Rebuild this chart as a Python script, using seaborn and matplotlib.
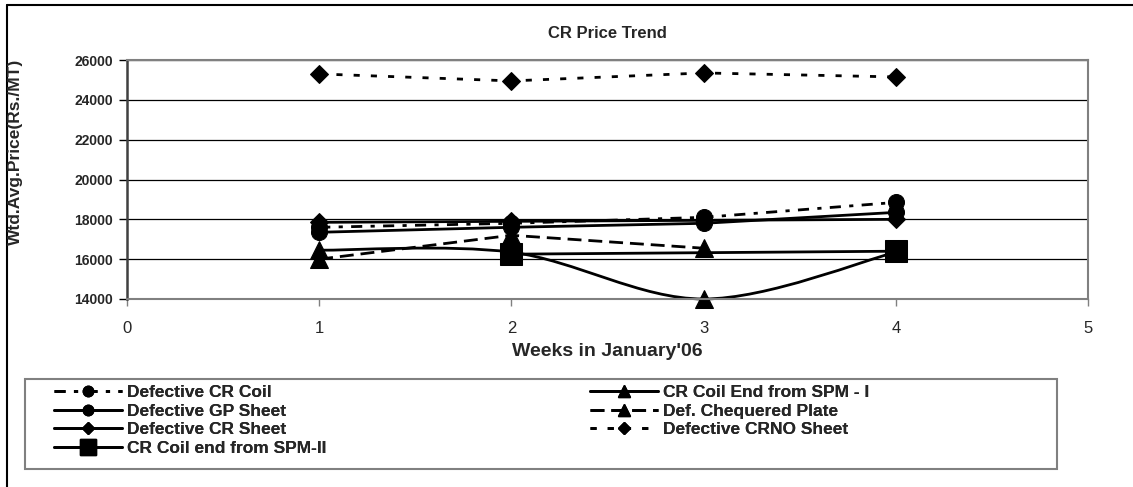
import numpy as np
import pandas as pd
import seaborn as sns
import matplotlib.pyplot as plt
from matplotlib.lines import Line2D
from matplotlib.path import Path
from matplotlib.patches import PathPatch, Rectangle

# values (Rs./MT), weeks 1-4 of January'06
weeks = [1, 2, 3, 4]
cr_coil = [17600, 17800, 18100, 18850]
spm1 = [16450, 16350, 14000, 16350]
gp_sheet = [17350, 17600, 17800, 18350]
chequered = [16000, 17200, 16550, np.nan]
cr_sheet = [17850, 17900, 17950, 18000]
crno = [25300, 24950, 25350, 25150]
spm2 = [np.nan, 16250, np.nan, 16400]

names = ["Defective CR Coil", "CR Coil End from SPM - I", "Defective GP Sheet",
         "Def. Chequered Plate", "Defective CR Sheet", "Defective CRNO Sheet",
         "CR Coil end from SPM-II"]
series = [cr_coil, spm1, gp_sheet, chequered, cr_sheet, crno, spm2]

# marker, size on plot, size in legend, linestyle
styles = {
    "Defective CR Coil": ("o", 11.5, 7.5, (0, (4, 3, 1.5, 3))),
    "CR Coil End from SPM - I": ("^", 13, 8, "-"),
    "Defective GP Sheet": ("o", 11.5, 7.5, "-"),
    "Def. Chequered Plate": ("^", 13, 8, (0, (5, 2.5))),
    "Defective CR Sheet": ("D", 9.5, 6, "-"),
    "Defective CRNO Sheet": ("D", 9.5, 6, (0, (2.2, 4))),
    "CR Coil end from SPM-II": ("s", 16, 11, "-"),
}

sns.set_theme(style="white")
plt.rcParams["font.family"] = ["Liberation Sans", "DejaVu Sans"]

fig = plt.figure(figsize=(11.33, 4.87), dpi=100)
ax = fig.add_axes([127 / 1133, 1 - 299 / 487, (1088 - 127) / 1133, (299 - 60) / 487])

df = pd.DataFrame({"week": weeks})
for name, vals in zip(names, series):
    df[name] = vals

for name in names:
    mk, ms, _, ls = styles[name]
    d = df[["week", name]].dropna()
    if name == "CR Coil End from SPM - I":
        # excel smoothed line: bezier through the points, markers on top
        x = d["week"].to_numpy(float)
        y = d[name].to_numpy(float)
        xp = np.r_[x[0], x, x[-1]]
        yp = np.r_[y[0], y, y[-1]]
        verts = [(x[0], y[0])]
        codes = [Path.MOVETO]
        for i in range(len(x) - 1):
            c1 = (xp[i + 1] + (xp[i + 2] - xp[i]) / 6, yp[i + 1] + (yp[i + 2] - yp[i]) / 6)
            c2 = (xp[i + 2] - (xp[i + 3] - xp[i + 1]) / 6, yp[i + 2] - (yp[i + 3] - yp[i + 1]) / 6)
            verts += [c1, c2, (x[i + 1], y[i + 1])]
            codes += [Path.CURVE4] * 3
        ax.add_patch(PathPatch(Path(verts, codes), fill=False, lw=2, edgecolor="black",
                               clip_on=False))
        sns.lineplot(x=d["week"], y=d[name], ax=ax, color="black", linestyle="none",
                     marker=mk, markersize=ms, markeredgecolor="black", legend=False,
                     clip_on=False)
    else:
        sns.lineplot(x=d["week"], y=d[name], ax=ax, color="black", lw=2, linestyle=ls,
                     marker=mk, markersize=ms, markeredgecolor="black", legend=False,
                     clip_on=False)

ax.set_xlim(0, 5)
ax.set_ylim(14000, 26000)
ax.set_xticks(range(0, 6))
ax.set_yticks(range(14000, 26001, 2000))
ax.set_xlabel("")
ax.set_ylabel("")
ax.yaxis.grid(True, color="black", lw=0.9)
ax.set_axisbelow(True)
for s in ["top", "right", "bottom"]:
    ax.spines[s].set_color("#808080")
    ax.spines[s].set_linewidth(1.5)
ax.spines["left"].set_color("#404040")
ax.spines["left"].set_linewidth(1.8)
ax.tick_params(axis="y", direction="out", length=6, width=1, color="black", pad=4,
               labelsize=10, left=True)
ax.tick_params(axis="x", direction="out", length=5, width=1, color="#808080", pad=11,
               labelsize=12, bottom=True)
for t in ax.get_yticklabels():
    t.set_fontweight("bold")

fig.text(607 / 1133, 1 - 33 / 487, "CR Price Trend", ha="center", va="center",
         fontsize=12, fontweight="bold")
fig.text(15 / 1133, 1 - 152 / 487, "Wtd.Avg.Price(Rs./MT)", ha="center", va="center",
         rotation=90, fontsize=12.5, fontweight="bold")
fig.text(607 / 1133, 1 - 352 / 487, "Weeks in January'06", ha="center", va="center",
         fontsize=14, fontweight="bold")

# outer chart border (top and left visible)
fig.add_artist(Line2D([7 / 1133, 1], [1 - 5 / 487, 1 - 5 / 487], color="black", lw=1.5))
fig.add_artist(Line2D([7 / 1133, 7 / 1133], [0, 1 - 5 / 487], color="black", lw=1.5))

# legend frame plus two columns
fig.add_artist(Rectangle((25 / 1133, 1 - 469 / 487), (1057 - 25) / 1133, (469 - 379) / 487,
                         fill=False, edgecolor="#808080", lw=1.5))

def handle(name):
    mk, _, lms, ls = styles[name]
    return Line2D([], [], color="black", lw=2, linestyle=ls, marker=mk, markersize=lms,
                  markeredgecolor="black")

col1 = ["Defective CR Coil", "Defective GP Sheet", "Defective CR Sheet", "CR Coil end from SPM-II"]
col2 = ["CR Coil End from SPM - I", "Def. Chequered Plate", "Defective CRNO Sheet"]
for col, x0 in [(col1, 40), (col2, 576)]:
    leg = fig.legend([handle(n) for n in col], col, loc="upper left",
                     bbox_to_anchor=(x0 / 1133, 1 - 371 / 487), frameon=False,
                     prop={"weight": "bold", "size": 12.5}, handlelength=3.9,
                     handletextpad=0.3, labelspacing=0.2, borderpad=0.3)
    fig.add_artist(leg)

fig.savefig("out.png", dpi=100)
